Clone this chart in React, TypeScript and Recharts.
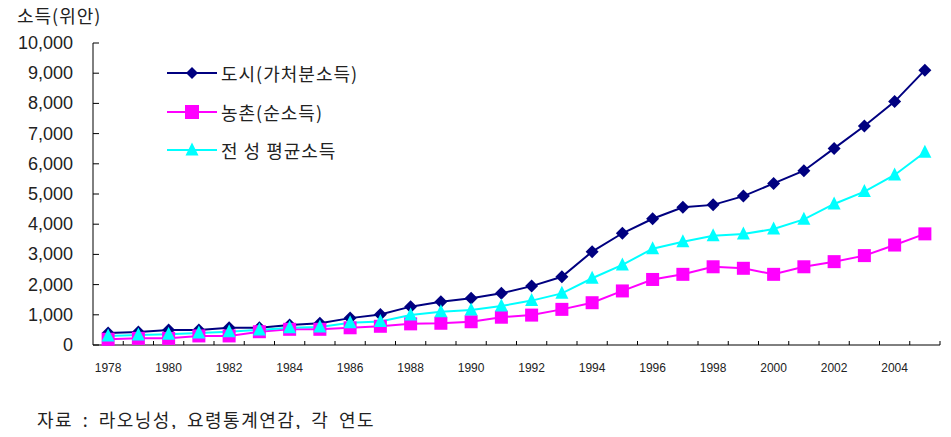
import { LineChart, Line, XAxis, YAxis } from "recharts";

// 연도
const years = [
  "1978", "1979", "1980", "1981", "1982", "1983", "1984", "1985", "1986", "1987",
  "1988", "1989", "1990", "1991", "1992", "1993", "1994", "1995", "1996", "1997",
  "1998", "1999", "2000", "2001", "2002", "2003", "2004", "2005",
];

// 도시(가처분소득)
const cityIncome = [
  400, 430, 500, 500, 570, 570, 660, 720, 890, 1010,
  1270, 1430, 1545, 1710, 1950, 2260, 3090, 3700, 4180, 4560,
  4640, 4930, 5350, 5770, 6510, 7250, 8060, 9100,
];

// 농촌(순소득)
const ruralIncome = [
  190, 220, 220, 300, 300, 440, 520, 520, 570, 620,
  700, 720, 770, 920, 990, 1180, 1400, 1790, 2170, 2340,
  2590, 2540, 2340, 2590, 2760, 2960, 3310, 3680,
];

// 전 성 평균소득
const avgIncome = [
  300, 330, 360, 400, 440, 500, 570, 600, 740, 780,
  990, 1100, 1160, 1290, 1470, 1710, 2210, 2650, 3190, 3420,
  3620, 3675, 3840, 4160, 4670, 5080, 5630, 6380,
];

const yTicks = [0, 1000, 2000, 3000, 4000, 5000, 6000, 7000, 8000, 9000, 10000];

const data = years.map((y, i) => ({
  year: y,
  city: cityIncome[i],
  rural: ruralIncome[i],
  avg: avgIncome[i],
}));

const NAVY = "#000080";
const MAGENTA = "#FF00FF";
const CYAN = "#00FFFF";
const KFONT = "'Noto Sans CJK KR', 'Noto Sans', sans-serif";

const W = 935;
const H = 421;
const PLOT_LEFT = 85;
const PLOT_RIGHT = 3;
const BAND = (W - PLOT_LEFT - PLOT_RIGHT) / years.length;

const Diamond = ({ cx, cy, r = 6.5, fill }: any) =>
  cx == null ? null : (
    <path d={`M${cx},${cy - r}L${cx + r},${cy}L${cx},${cy + r}L${cx - r},${cy}Z`} fill={fill} />
  );

const Square = ({ cx, cy, r = 6.5, fill }: any) =>
  cx == null ? null : <rect x={cx - r} y={cy - r} width={r * 2} height={r * 2} fill={fill} />;

const Triangle = ({ cx, cy, r = 6.5, fill }: any) =>
  cx == null ? null : (
    <path d={`M${cx},${cy - r - 1}L${cx + r},${cy + r - 1}L${cx - r},${cy + r - 1}Z`} fill={fill} />
  );

const YTick = ({ x, y, payload }: any) => (
  <g>
    <line x1={x} y1={y} x2={x + 6} y2={y} stroke="#000" />
    <text
      x={x - 20}
      y={y}
      dy={6}
      textAnchor="end"
      fontSize={18}
      fontFamily="'Liberation Sans', Arial, sans-serif"
      fill="#222"
    >
      {payload.value.toLocaleString("en-US")}
    </text>
  </g>
);

const XTick = ({ x, y, payload, index }: any) => (
  <g>
    <line x1={x + BAND / 2} y1={y} x2={x + BAND / 2} y2={y - 4} stroke="#000" />
    {index % 2 === 0 && (
      <text
        x={x}
        y={y}
        dy={27}
        textAnchor="middle"
        fontSize={12}
        fontFamily="'Liberation Sans', Arial, sans-serif"
        fill="#222"
      >
        {payload.value}
      </text>
    )}
  </g>
);

const legendItems = [
  { label: "도시(가처분소득)", color: NAVY, Shape: Diamond, r: 6 },
  { label: "농촌(순소득)", color: MAGENTA, Shape: Square, r: 7 },
  { label: "전 성 평균소득", color: CYAN, Shape: Triangle, r: 6.5 },
];

// 범례: 기호는 작은 svg, 글자는 html
const ChartLegend = () => (
  <div style={{ position: "absolute", left: 157, top: 53 }}>
    {legendItems.map((it, i) => (
      <div
        key={it.label}
        style={{
          position: "absolute",
          left: 0,
          top: i * 38.5,
          height: 24,
          display: "flex",
          alignItems: "center",
          whiteSpace: "nowrap",
        }}
      >
        <svg width={56} height={24} style={{ display: "block" }}>
          <line x1={2} y1={12} x2={52} y2={12} stroke={it.color} strokeWidth={2} />
          <it.Shape cx={27} cy={12} r={it.r} fill={it.color} />
        </svg>
        <span
          style={{
            fontFamily: KFONT,
            fontSize: 18,
            color: "#222",
            letterSpacing: 1,
            lineHeight: "24px",
          }}
        >
          {it.label}
        </span>
      </div>
    ))}
  </div>
);

export default function App() {
  return (
    <div style={{ position: "relative", width: W, height: H }}>
      <LineChart
        width={W}
        height={H}
        data={data}
        margin={{ top: 35, right: PLOT_RIGHT, bottom: 54, left: 0 }}
      >
        <XAxis
          dataKey="year"
          interval={0}
          tickLine={false}
          tickSize={0}
          tickMargin={0}
          tick={<XTick />}
          height={30}
          stroke="#000"
          padding={{ left: BAND / 2, right: BAND / 2 }}
        />
        <YAxis
          width={PLOT_LEFT}
          domain={[0, 10000]}
          ticks={yTicks}
          tickLine={false}
          tickSize={0}
          tickMargin={0}
          tick={<YTick />}
          stroke="#000"
          interval={0}
        />
        <Line
          dataKey="city"
          stroke={NAVY}
          strokeWidth={2}
          dot={<Diamond r={6.5} fill={NAVY} />}
          isAnimationActive={false}
        />
        <Line
          dataKey="rural"
          stroke={MAGENTA}
          strokeWidth={2}
          dot={<Square r={6.5} fill={MAGENTA} />}
          isAnimationActive={false}
        />
        <Line
          dataKey="avg"
          stroke={CYAN}
          strokeWidth={2}
          dot={<Triangle r={6.5} fill={CYAN} />}
          isAnimationActive={false}
        />
      </LineChart>
      <ChartLegend />
      <div
        style={{
          position: "absolute",
          left: 9,
          top: -3,
          fontFamily: KFONT,
          fontSize: 18,
          color: "#222",
          lineHeight: "20px",
          letterSpacing: 1,
        }}
      >
        소득(위안)
      </div>
      <div
        style={{
          position: "absolute",
          left: 29,
          top: 400,
          fontFamily: KFONT,
          fontSize: 18,
          color: "#222",
          lineHeight: "22px",
          whiteSpace: "nowrap",
          letterSpacing: 1.5,
          wordSpacing: 4,
        }}
      >
        자료 : 라오닝성, 요령통계연감, 각 연도
      </div>
    </div>
  );
}
